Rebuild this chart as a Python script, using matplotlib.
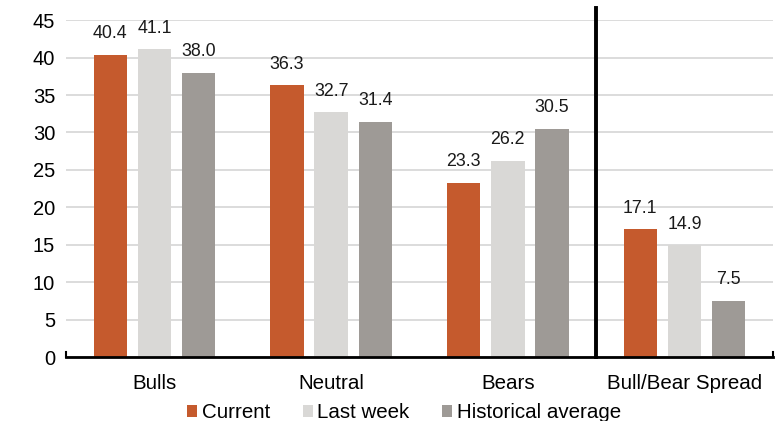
import matplotlib.pyplot as plt
import numpy as np

plt.rcParams['font.family'] = ['Liberation Sans', 'DejaVu Sans']

categories = ['Bulls', 'Neutral', 'Bears', 'Bull/Bear Spread']
current = [40.4, 36.3, 23.3, 17.1]
last_week = [41.1, 32.7, 26.2, 14.9]
hist_avg = [38.0, 31.4, 30.5, 7.5]
series_names = ['Current', 'Last week', 'Historical average']
colors = ['#C55A2D', '#D9D8D6', '#9E9A96']

fig = plt.figure(figsize=(7.79, 4.21), dpi=100)
ax = fig.add_axes([0.085, 0.152, 0.907, 0.800])

x = np.arange(len(categories)) + 0.5
width = 0.19
offsets = [-0.25, 0, 0.25]
for vals, name, col, off in zip([current, last_week, hist_avg], series_names, colors, offsets):
    bars = ax.bar(x + off, vals, width, color=col, label=name, zorder=2)
    for b, v in zip(bars, vals):
        ax.annotate(f'{v:.1f}', (b.get_x() + b.get_width() / 2, v),
                    xytext=(0, 9), textcoords='offset points',
                    ha='center', va='bottom', fontsize=12.8, color='#1a1a1a')

ax.set_xlim(0, len(categories))
ax.set_ylim(0, 45)
ax.set_yticks(range(0, 46, 5))
ax.set_xticks(x)
ax.set_xticklabels(categories)
ax.tick_params(axis='x', length=0, pad=12, labelsize=14.8)
ax.tick_params(axis='y', length=0, pad=8, labelsize=14.5)
ax.yaxis.grid(True, color='#D9D9D9', lw=1.3, zorder=0)
ax.set_axisbelow(True)
for s in ['top', 'right', 'left']:
    ax.spines[s].set_visible(False)
ax.spines['bottom'].set_linewidth(2)
ax.spines['bottom'].set_color('black')

# small end ticks on the category axis
for xe in [0, len(categories)]:
    ax.plot([xe, xe], [0, 0.7], color='black', lw=1.5, clip_on=False, zorder=3)

# separator between groups and spread
ax.plot([3, 3], [0, 46.6], color='black', lw=2.8, clip_on=False, zorder=3)

ax.legend(loc='center', bbox_to_anchor=(0.478, -0.165), ncol=3, frameon=False,
          fontsize=14.8, handlelength=0.5, handleheight=0.5, handletextpad=0.2,
          columnspacing=1.6, borderpad=0)

fig.savefig('out.png', dpi=100)
